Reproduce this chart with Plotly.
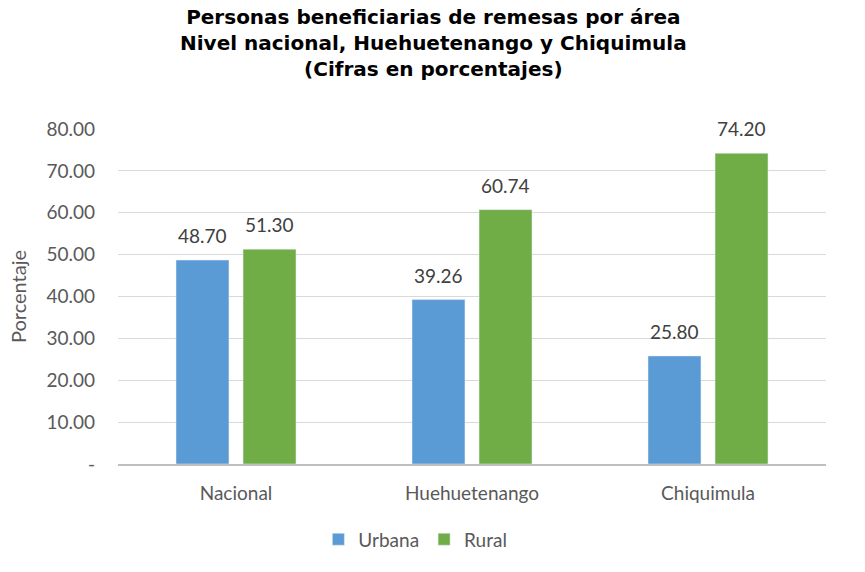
import plotly.graph_objects as go

categories = ["Nacional", "Huehuetenango", "Chiquimula"]
urbana = [48.70, 39.26, 25.80]
rural = [51.30, 60.74, 74.20]
tick_vals = [0, 10, 20, 30, 40, 50, 60, 70, 80]
tick_text = ["-", "10.00", "20.00", "30.00", "40.00", "50.00", "60.00", "70.00", "80.00"]
series = [("Urbana", urbana, "#5B9BD5", -33.5), ("Rural", rural, "#70AD47", 33.5)]

label_font = dict(family="Lato, Open Sans, sans-serif", size=19, color="#404040")

fig = go.Figure()
for name, vals, color, dx in series:
    fig.add_trace(go.Bar(name=name, x=categories, y=vals, marker_color=color))
    for c, v in zip(categories, vals):
        fig.add_annotation(x=c, y=v, text=f"{v:.2f}", showarrow=False, xshift=dx,
                           yshift=11, yanchor="bottom", font=label_font)

fig.add_annotation(
    text="<b>Personas beneficiarias de remesas por área<br>Nivel nacional, Huehuetenango y Chiquimula<br>(Cifras en porcentajes)</b>",
    xref="paper", yref="paper", x=0.445, y=1.375, xanchor="center", yanchor="top",
    showarrow=False, align="center",
    font=dict(family="DejaVu Sans, sans-serif", size=20, color="black"))

fig.update_layout(
    width=865, height=572,
    margin=dict(l=118, r=39, t=129, b=108),
    paper_bgcolor="white", plot_bgcolor="white",
    barmode="group", bargap=0.432, bargroupgap=0.21,
    font=dict(family="Lato, Open Sans, sans-serif", color="#595959"),
    yaxis=dict(range=[0, 80], tickvals=tick_vals, ticktext=tick_text,
               showgrid=True, gridcolor="#d9d9d9", gridwidth=1, zeroline=False,
               tickfont=dict(size=19, color="#595959"), ticks="", ticklabelstandoff=22,
               title=dict(text="Porcentaje", font=dict(size=20, color="#595959"), standoff=14)),
    xaxis=dict(showline=True, linecolor="#bfbfbf", linewidth=1.5,
               tickfont=dict(size=19, color="#595959"), ticks="", ticklabelstandoff=11),
    legend=dict(orientation="h", x=0.42, xanchor="center", y=-0.225, yanchor="middle",
                font=dict(size=19, color="#595959"), itemwidth=30, traceorder="normal"),
    showlegend=True,
)

fig.write_html("out.html")
